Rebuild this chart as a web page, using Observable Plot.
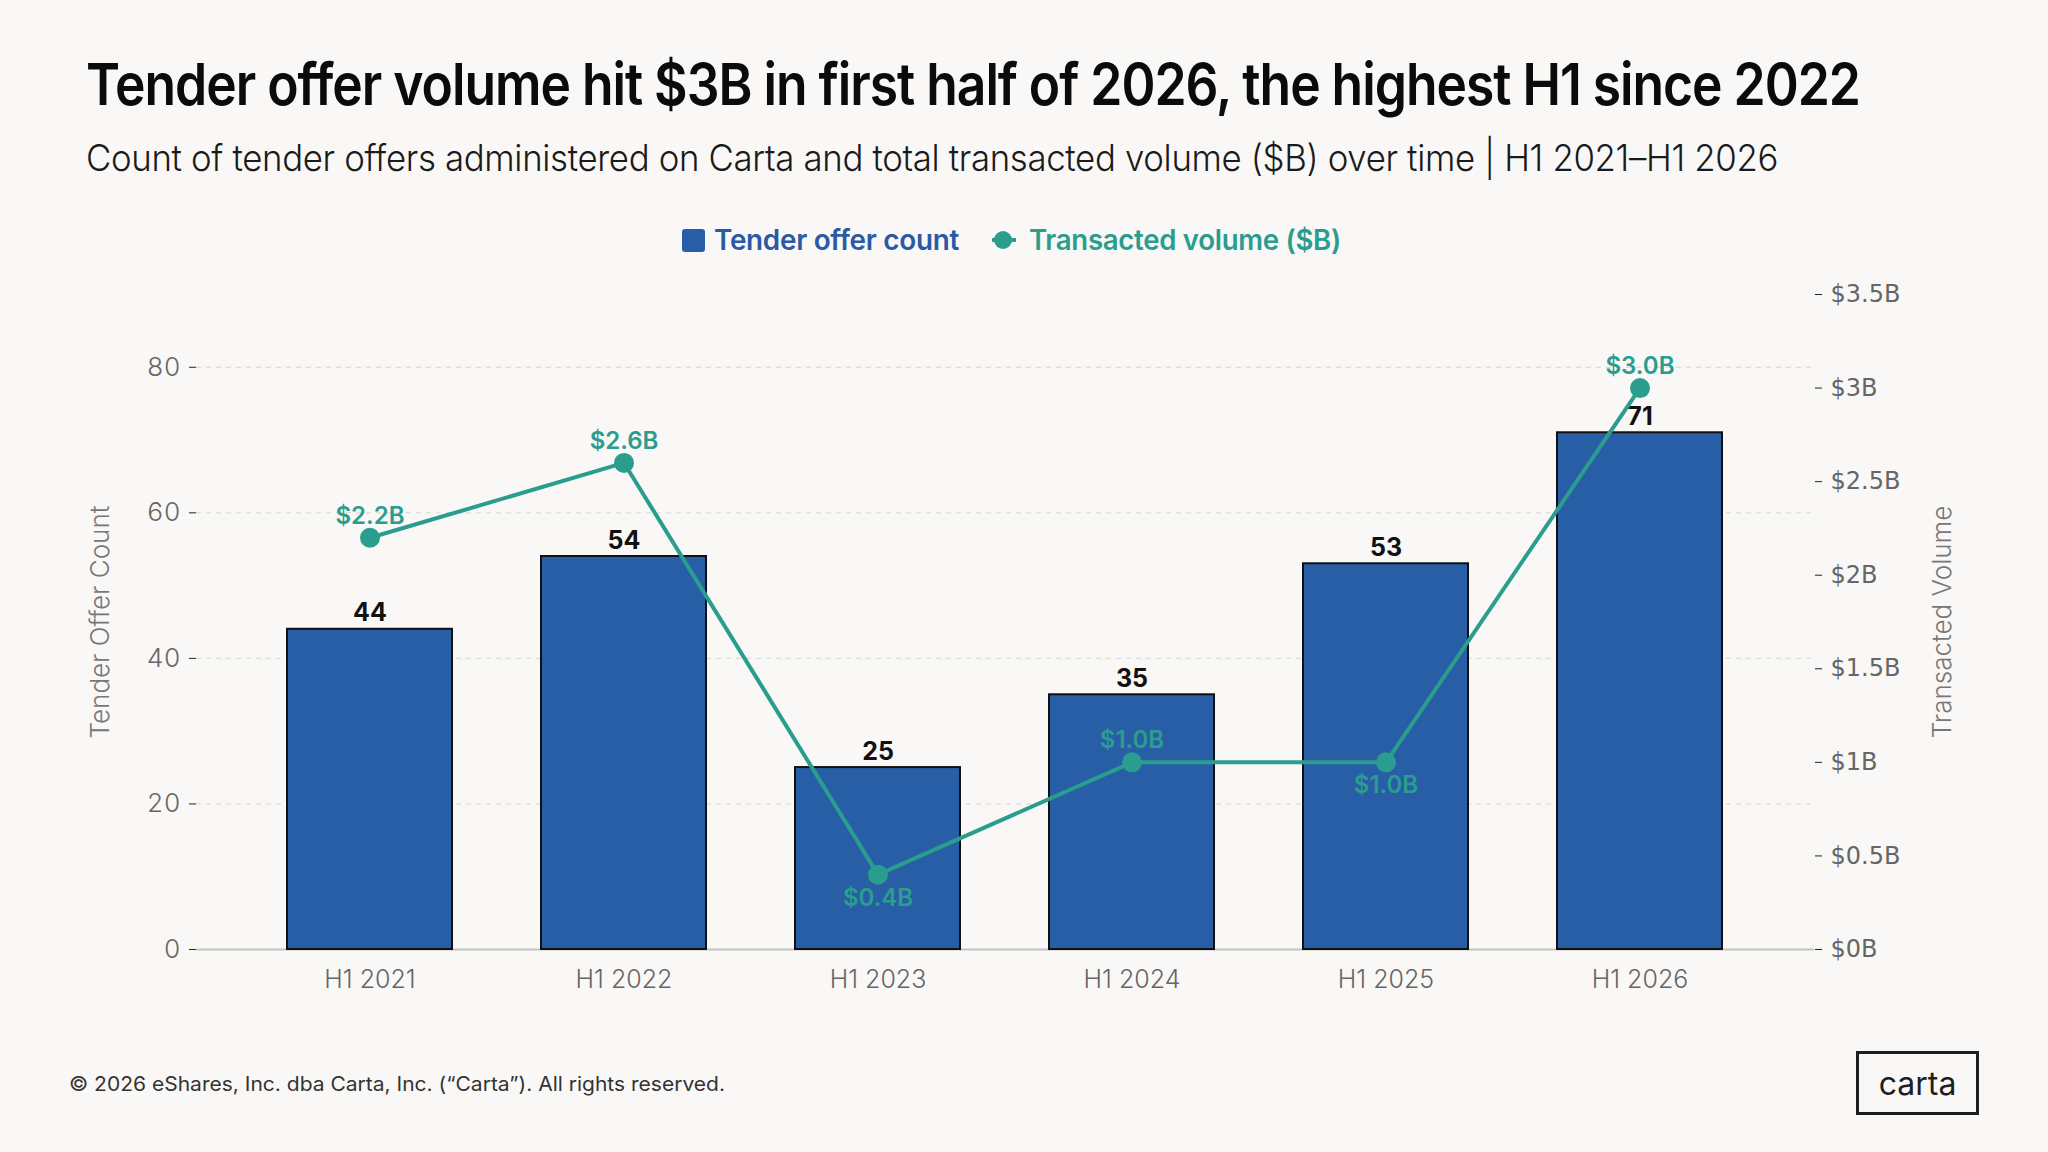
<!DOCTYPE html>
<html>
<head>
<meta charset="utf-8">
<script src="https://cdn.jsdelivr.net/npm/d3@7"></script>
<script src="https://cdn.jsdelivr.net/npm/@observablehq/plot@0.6"></script>
<style>
  html, body { margin: 0; padding: 0; background: #f9f8f6; }
  body { width: 2048px; height: 1152px; position: relative; overflow: hidden; font-family: Inter, "Noto Sans", sans-serif; }
  .abs { position: absolute; white-space: nowrap; line-height: 1; transform-origin: left center; }
  #title { left: 86px; top: 55px; font-size: 58px; font-weight: 600; color: #0b0b0b; letter-spacing: -0.02em; }
  #subtitle { left: 86px; top: 139px; font-size: 37px; font-weight: 300; color: #1a1a1a; letter-spacing: -0.01em; }
  .leg { font-size: 28px; font-weight: 600; top: 226px; letter-spacing: -0.01em; }
  #footer { left: 69px; top: 1074px; font-size: 20px; font-weight: 400; color: #333; }
  #chart { position: absolute; left: 0; top: 270px; }
  #logo { position: absolute; left: 1856px; top: 1051px; width: 117px; height: 58px; border: 3px solid #1e1e1e; display: flex; align-items: center; justify-content: center; font-size: 32px; font-weight: 400; color: #1e1e1e; letter-spacing: 0; }
</style>
</head>
<body>
<div id="title" class="abs">Tender offer volume hit $3B in first half of 2026, the highest H1 since 2022</div>
<div id="subtitle" class="abs">Count of tender offers administered on Carta and total transacted volume ($B) over time | H1 2021–H1 2026</div>
<div id="legsq" style="position:absolute;left:682px;top:229px;width:23px;height:23px;background:#275ea5;border-radius:3px;"></div>
<div id="leg1" class="abs leg" style="left:714px;color:#2a5aa6;">Tender offer count</div>
<div style="position:absolute;left:992px;top:238px;width:24px;height:4px;background:#2a9d8f;"></div>
<div style="position:absolute;left:994px;top:231px;width:18px;height:18px;border-radius:50%;background:#2a9d8f;"></div>
<div id="leg2" class="abs leg" style="left:1029px;color:#2a9d8f;">Transacted volume ($B)</div>
<div id="chart"></div>
<div id="footer" class="abs">© 2026 eShares, Inc. dba Carta, Inc. (“Carta”). All rights reserved.</div>
<div id="logo">carta</div>
<script>
// ---- data ----
const periods = ["H1 2021", "H1 2022", "H1 2023", "H1 2024", "H1 2025", "H1 2026"];
const counts = [44, 54, 25, 35, 53, 71];
const volumes = [2.2, 2.6, 0.4, 1.0, 1.0, 3.0];
const volumeLabels = ["$2.2B", "$2.6B", "$0.4B", "$1.0B", "$1.0B", "$3.0B"];
const volumeLabelSide = ["above", "above", "below", "above", "below", "above"];
const countTicks = [0, 20, 40, 60, 80];
const volumeTicks = [0, 0.5, 1, 1.5, 2, 2.5, 3, 3.5];
const volumeTickLabels = ["$0B", "$0.5B", "$1B", "$1.5B", "$2B", "$2.5B", "$3B", "$3.5B"];

const countMax = 90;
const volumeMax = 3.5;
const k = countMax / volumeMax;

const BLUE = "#275ea5";
const TEAL = "#2a9d8f";
const GRAY = "#666666";

const rows = periods.map((p, i) => ({
  period: p,
  count: counts[i],
  volume: volumes[i],
  vScaled: volumes[i] * k,
  vLabel: volumeLabels[i],
  side: volumeLabelSide[i]
}));

const chart = Plot.plot({
  width: 2048,
  height: 750,
  marginLeft: 196,
  marginRight: 234,
  marginTop: 24,
  marginBottom: 71,
  style: { background: "transparent", fontFamily: "Inter, sans-serif", overflow: "visible" },
  x: { domain: periods, padding: 0.35, label: null },
  y: { domain: [0, countMax], label: null },
  marks: [
    Plot.gridY(countTicks.filter(d => d > 0), { stroke: "#d4d4d4", strokeOpacity: 1, strokeDasharray: "5,5", strokeWidth: 1 }),
    Plot.ruleY([0], { stroke: "#c4c4c4", strokeWidth: 2 }),
    Plot.barY(rows, { x: "period", y: "count", fill: BLUE, stroke: "#111", strokeWidth: 2 }),
    Plot.text(rows, { x: "period", y: "count", text: d => String(d.count), lineAnchor: "bottom", dy: -8, fontSize: 25, fontWeight: 700, fill: "#111" }),
    Plot.line(rows, { x: "period", y: "vScaled", stroke: TEAL, strokeWidth: 4 }),
    Plot.dot(rows, { x: "period", y: "vScaled", r: 10, fill: TEAL, stroke: "none" }),
    Plot.text(rows.filter(d => d.side === "above"), { x: "period", y: "vScaled", text: "vLabel", lineAnchor: "bottom", dy: -14, fontSize: 24, fontWeight: 600, fill: TEAL }),
    Plot.text(rows.filter(d => d.side === "below"), { x: "period", y: "vScaled", text: "vLabel", lineAnchor: "top", dy: 14, fontSize: 24, fontWeight: 600, fill: TEAL }),
    Plot.axisX({ tickSize: 0, tickPadding: 21, fontSize: 25, fontWeight: 300, fill: GRAY, label: null }),
    Plot.axisY(countTicks, { anchor: "left", tickSize: 7, tickPadding: 9, fontSize: 26, fontWeight: 300, fill: GRAY, stroke: "#222", label: null }),
    Plot.axisY(volumeTicks.map(v => v * k), {
      anchor: "right", tickSize: 7, tickPadding: 9, fontSize: 24, fill: GRAY, stroke: "#222", label: null,
      fontFamily: "DejaVu Sans, sans-serif",
      tickFormat: d => volumeTickLabels[volumeTicks.findIndex(v => Math.abs(v * k - d) < 1e-6)]
    }),
    Plot.text(["Tender Offer Count"], { frameAnchor: "left", textAnchor: "middle", dx: -96, rotate: -90, fontSize: 26, fontWeight: 300, fill: "#777" }),
    Plot.text(["Transacted Volume"], { frameAnchor: "right", textAnchor: "middle", dx: 128, rotate: -90, fontSize: 26, fontWeight: 300, fill: "#777" })
  ]
});
document.getElementById("chart").appendChild(chart);

function fit(id, target) {
  const el = document.getElementById(id);
  const w = el.getBoundingClientRect().width;
  if (w > 0) el.style.transform = `scaleX(${target / w})`;
}
function fitAll() {
  fit("title", 1774);
  fit("subtitle", 1692);
  fit("leg1", 245);
  fit("leg2", 312);
  fit("footer", 656);
}
if (document.fonts && document.fonts.ready) document.fonts.ready.then(fitAll); else fitAll();
</script>
</body>
</html>
